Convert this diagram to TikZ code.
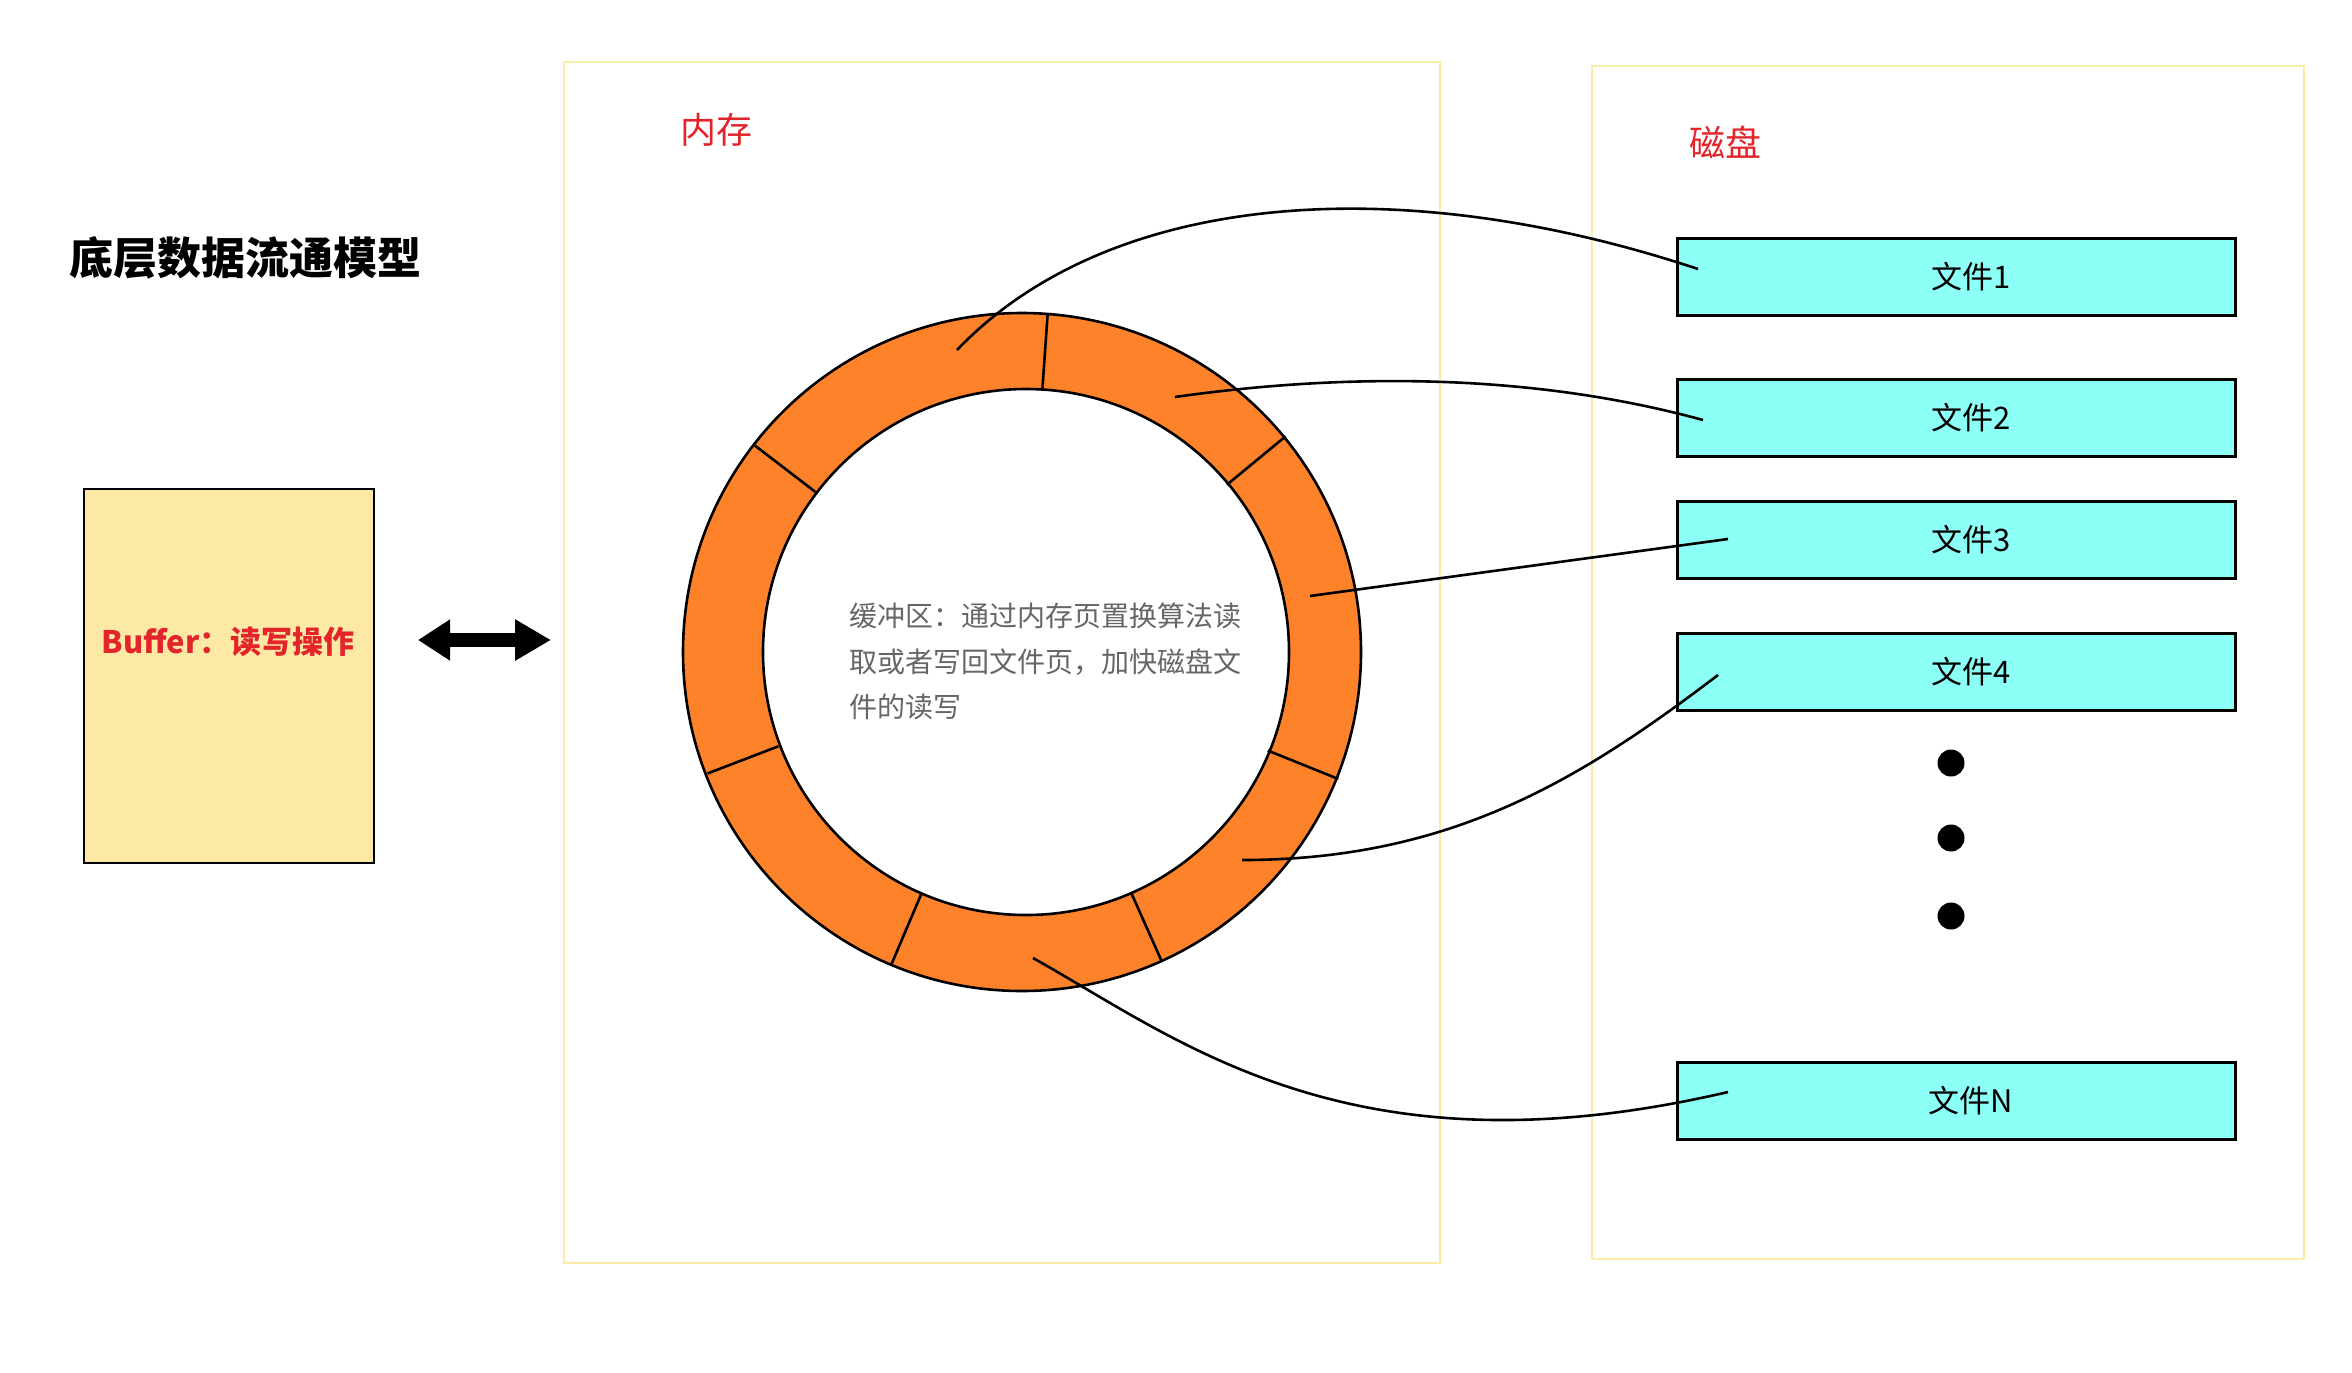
\documentclass[tikz,border=0pt]{standalone}
\usepackage{fontspec}
\setmainfont{Noto Sans CJK SC}
\usetikzlibrary{arrows.meta}
\definecolor{frameY}{HTML}{FBEBA8}
\definecolor{bufY}{HTML}{FCE9A6}
\definecolor{ringO}{HTML}{FD8229}
\definecolor{fileC}{HTML}{8CFFF6}
\definecolor{redT}{HTML}{E3242B}
\definecolor{grayT}{HTML}{666666}
\tikzset{
  frame/.style={draw=frameY, line width=0.8pt, inner sep=0pt},
  filebox/.style={draw=black, fill=fileC, line width=1.5pt, minimum width=279pt, minimum height=38.5pt, inner sep=0pt, font=\fontsize{15.5pt}{18pt}\selectfont},
  ringline/.style={draw=black, line width=1.3pt},
  conn/.style={draw=black, line width=1.3pt},
  dotn/.style={circle, fill=black, minimum size=13.5pt, inner sep=0pt},
  redlabel/.style={text=redT, font=\fontsize{18pt}{21pt}\selectfont}
}
\begin{document}
\begin{tikzpicture}[x=0.5pt,y=-0.5pt]
\useasboundingbox[fill=white] (0,0) rectangle (2352,1372);

% title
\node[font=\fontsize{22pt}{26pt}\selectfont\bfseries] (title) at (245,258) {底层数据流通模型};

% buffer
\node[draw=black, fill=bufY, line width=0.7pt, minimum width=145pt, minimum height=187pt, inner sep=0pt] (buf) at (229,676) {};
\node[text=redT, font=\fontsize{15.5pt}{18pt}\selectfont\bfseries] (buftxt) at (228,642) {Buffer：读写操作};

% double arrow
\coordinate (arL) at (418,640);
\coordinate (arR) at (551,640);
\draw[line width=7pt, {Triangle[length=16pt,width=19.5pt]}-{Triangle[length=18pt,width=19.5pt]}] (arL) -- (arR);

% frames
\node[frame, minimum width=438pt, minimum height=600.5pt] (mem) at (1002,662.5) {};
\node[frame, minimum width=356pt, minimum height=596.5pt] (disk) at (1948,662.5) {};
\node[redlabel] (memlbl) at (716,130) {内存};
\node[redlabel] (disklbl) at (1725,142) {磁盘};

% ring
\fill[ringO, even odd rule] (1022,652) circle[radius=169.5pt] (1026,652) circle[radius=131.5pt];
\draw[ringline] (1022,652) circle[radius=169.5pt];
\draw[ringline] (1026,652) circle[radius=131.5pt];
\foreach \a in {86,39.5,-22,-66,-113,-159,142.5}
  \draw[ringline] (1024,652) ++(\a:131.5pt) -- ++(\a:38pt);

\node[text=grayT, align=left, anchor=west, inner sep=0pt, font=\fontsize{14pt}{22.75pt}\selectfont] (buftext) at (849,661.5)
  {缓冲区：通过内存页置换算法读\\取或者写回文件页，加快磁盘文\\件的读写};

% files
\node[filebox] (f1) at (1956,277) {\hspace*{15pt}文件1};
\node[filebox] (f2) at (1956,418) {\hspace*{15pt}文件2};
\node[filebox] (f3) at (1956,540) {\hspace*{15pt}文件3};
\node[filebox] (f4) at (1956,672) {\hspace*{15pt}文件4};
\node[filebox] (fN) at (1956,1100.5) {\hspace*{15pt}文件N};

\node[dotn] (d1) at (1951,763) {};
\node[dotn] (d2) at (1951,838) {};
\node[dotn] (d3) at (1951,916) {};

% connectors
\coordinate (s1) at (957,350);
\coordinate (s2) at (1175,397);
\coordinate (s3) at (1310,596);
\coordinate (s4) at (1242,860);
\coordinate (s5) at (1033,958);
\coordinate (e1) at (1698,269);
\coordinate (e2) at (1703,420);
\coordinate (e3) at (1728,539);
\coordinate (e4) at (1718,675);
\coordinate (e5) at (1728,1092);

\draw[conn] (s1) .. controls (1110,190) and (1400,170) .. (e1);
\draw[conn] (s2) .. controls (1330,375) and (1520,370) .. (e2);
\draw[conn] (s3) -- (e3);
\draw[conn] (s4) .. controls (1450,860) and (1580,780) .. (e4);
\draw[conn] (s5) .. controls (1180,1040) and (1350,1180) .. (e5);
\end{tikzpicture}
\end{document}
